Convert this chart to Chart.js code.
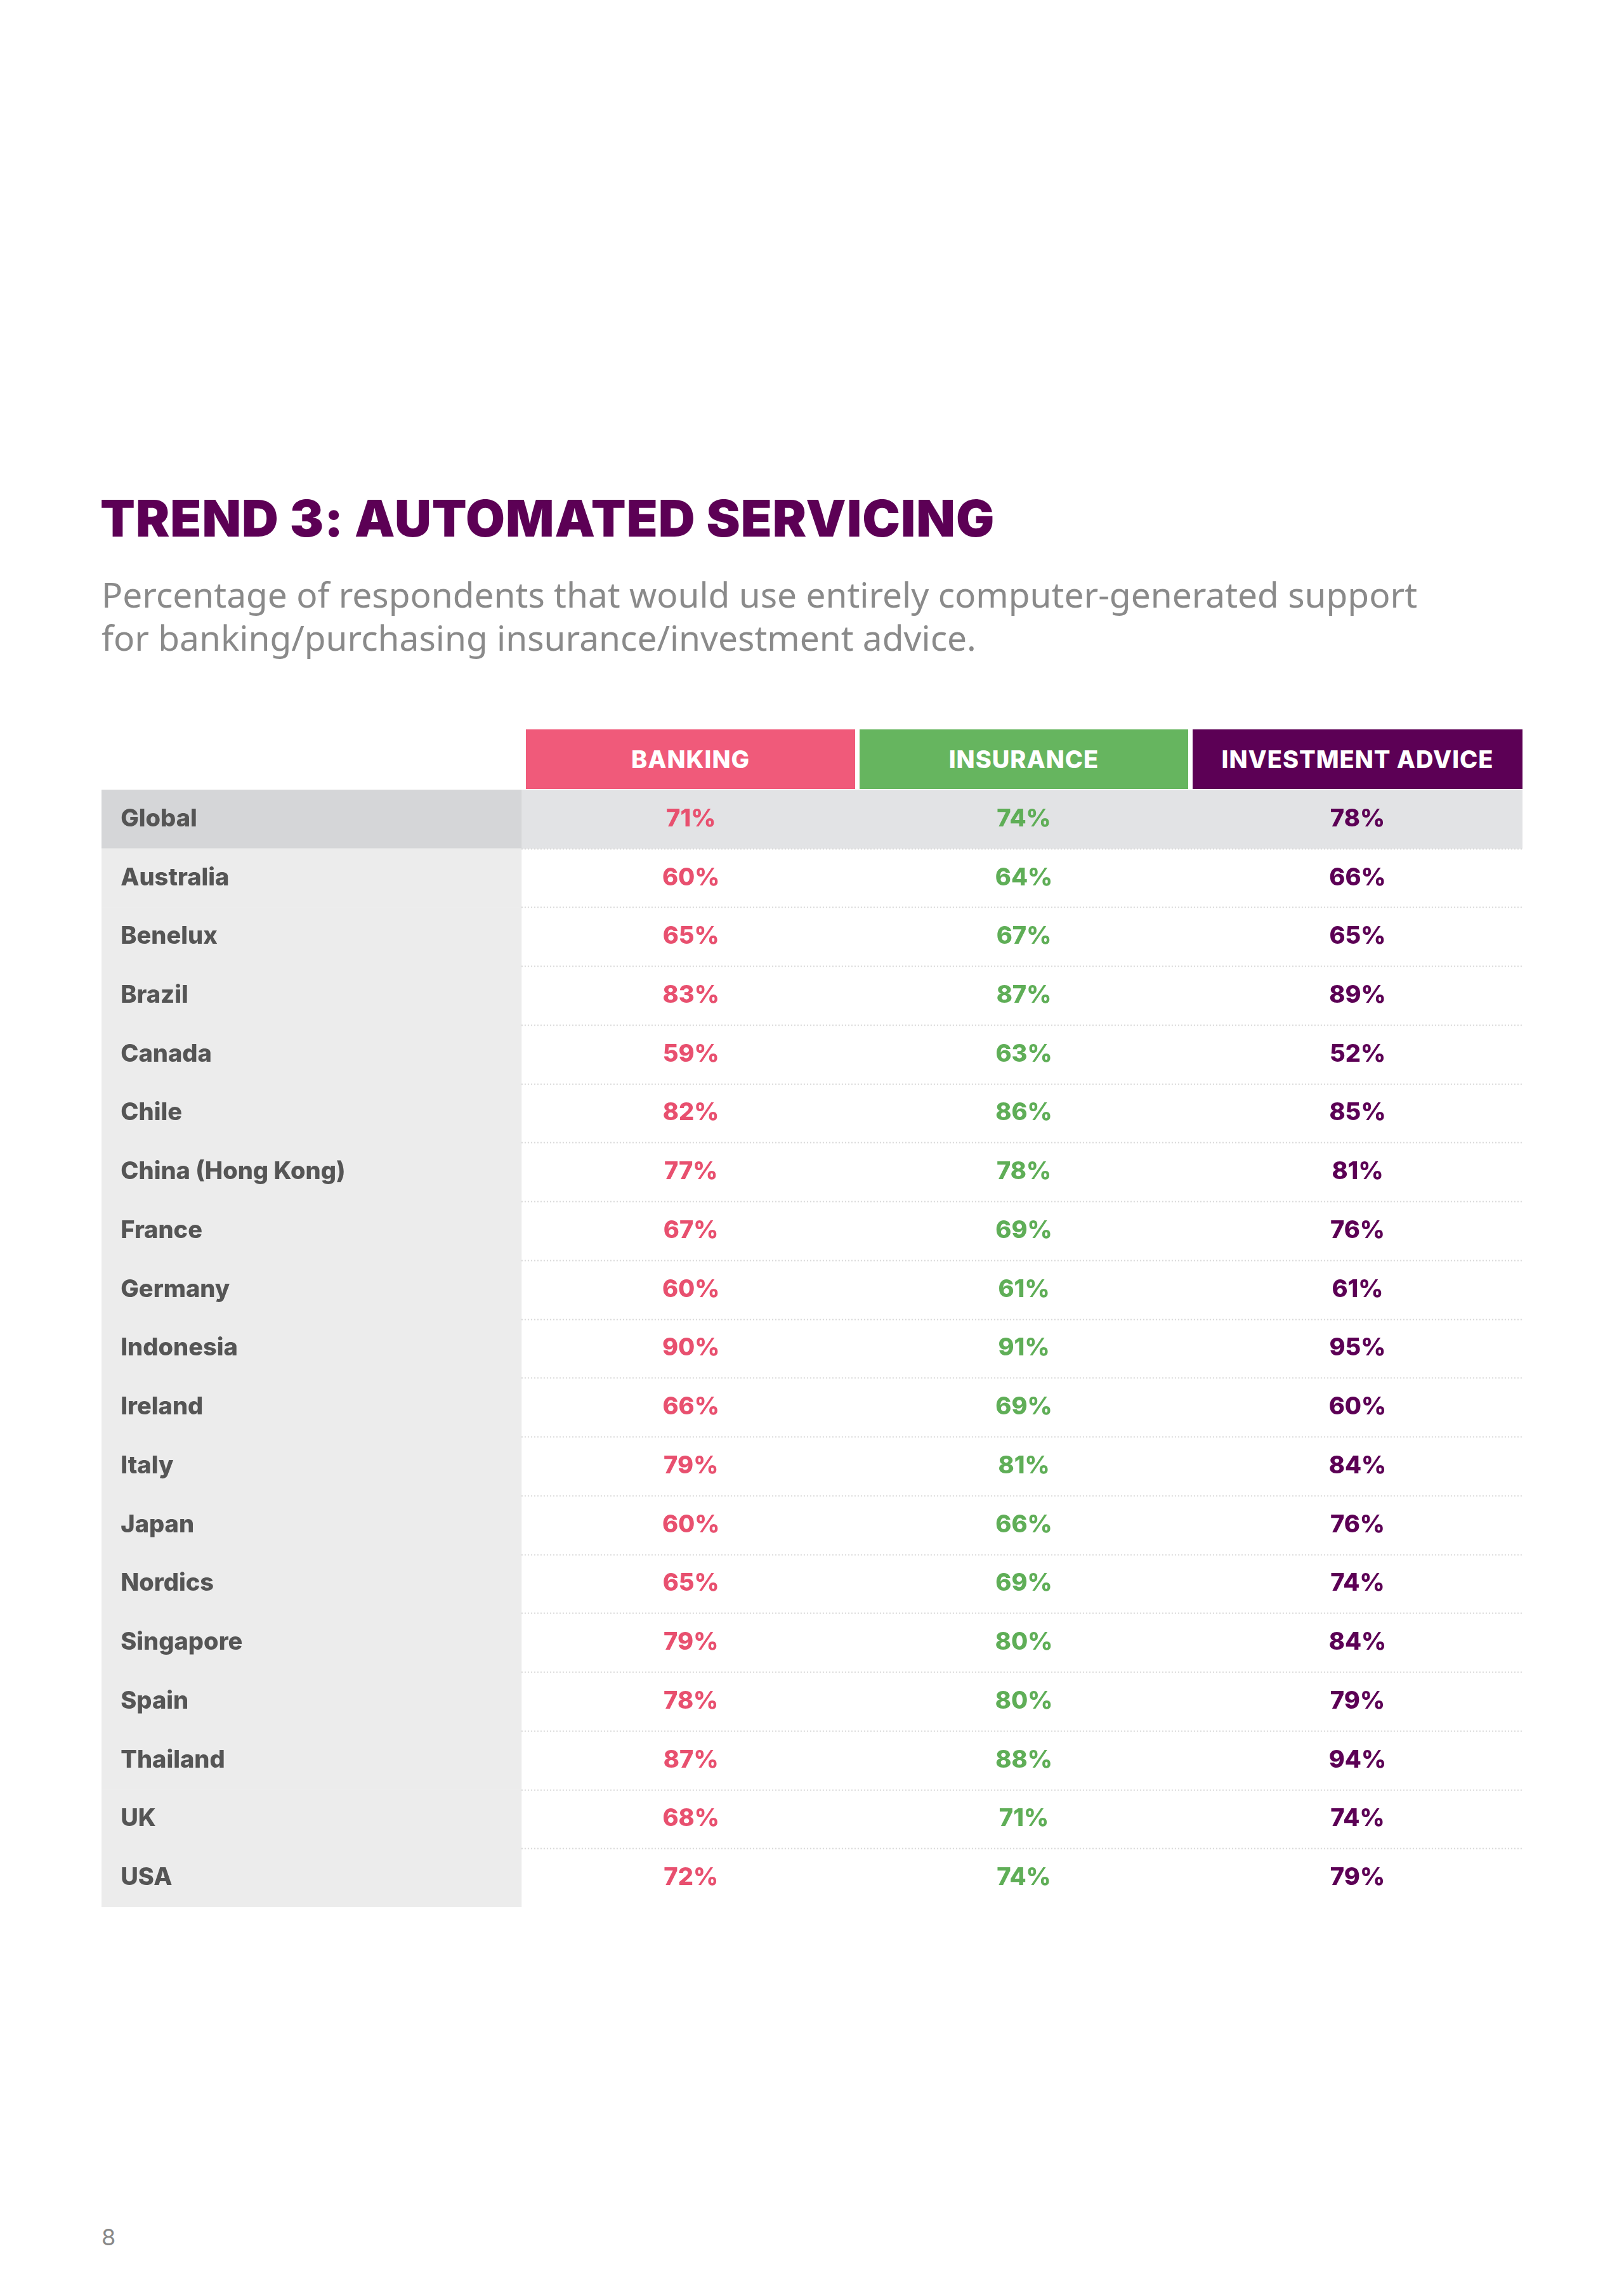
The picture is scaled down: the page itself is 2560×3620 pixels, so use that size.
<!DOCTYPE html>
<html>
<head>
<meta charset="utf-8">
<script src="https://cdn.jsdelivr.net/npm/chart.js@4"></script>
<style>
  body { margin: 0; background: #fff; width: 2560px; height: 3620px; position: relative; font-family: Inter, "Open Sans", sans-serif; }
  h1 { position: absolute; left: 158px; top: 768px; margin: 0; font-size: 80px; font-weight: 900; color: #5c0055; letter-spacing: 1px; }
  .sub { position: absolute; left: 160px; top: 903px; width: 2150px; font-size: 55px; line-height: 68px; color: #8a8a8a; font-family: "Noto Sans", sans-serif; }
  .hd { position: absolute; top: 1150px; height: 94px; line-height: 94px; text-align: center; color: #fff; font-size: 38px; font-weight: 800; letter-spacing: 1px; }
  #wrap { position: absolute; left: 160px; top: 1245px; width: 2240px; height: 1762px; }
  .pg { position: absolute; left: 160px; top: 3505px; font-size: 36px; color: #888; }
</style>
</head>
<body>
<h1>TREND 3: AUTOMATED SERVICING</h1>
<div class="sub">Percentage of respondents that would use entirely computer-generated support for banking/purchasing insurance/investment advice.</div>
<div class="hd" style="left:829px;width:519px;background:#f05a7a">BANKING</div>
<div class="hd" style="left:1355px;width:518px;background:#66b55f">INSURANCE</div>
<div class="hd" style="left:1880px;width:520px;background:#5c0055">INVESTMENT ADVICE</div>
<div id="wrap"><canvas id="table"></canvas></div>
<div class="pg">8</div>
<script>
// ── DATA ──
const countries = ['Global', 'Australia', 'Benelux', 'Brazil', 'Canada', 'Chile', 'China (Hong Kong)',
  'France', 'Germany', 'Indonesia', 'Ireland', 'Italy', 'Japan', 'Nordics', 'Singapore', 'Spain',
  'Thailand', 'UK', 'USA'];
const banking    = [71, 60, 65, 83, 59, 82, 77, 67, 60, 90, 66, 79, 60, 65, 79, 78, 87, 68, 72];
const insurance  = [74, 64, 67, 87, 63, 86, 78, 69, 61, 91, 69, 81, 66, 69, 80, 80, 88, 71, 74];
const investment = [78, 66, 65, 89, 52, 85, 81, 76, 61, 95, 60, 84, 76, 74, 84, 79, 94, 74, 79];

// column layout in x-scale units (0..1 across the table)
const LABEL_END = 0.2955;
const colCenters = [0.4148, 0.6491, 0.8839];
const colColors = ['#e8506f', '#5fae57', '#5c0055'];
const series = [banking, insurance, investment];

const tablePlugin = {
    id: 'tableText',
    afterDatasetsDraw(chart) {
        const { ctx, scales: { x, y } } = chart;
        const half = (y.getPixelForValue(1) - y.getPixelForValue(0)) / 2;
        ctx.save();
        // dotted separators in value columns
        ctx.strokeStyle = '#d8d8d8';
        ctx.lineWidth = 2;
        ctx.setLineDash([2, 3]);
        for (let i = 1; i < countries.length; i++) {
            const py = Math.round(y.getPixelForValue(i) - half) + 0.5;
            ctx.beginPath();
            ctx.moveTo(x.getPixelForValue(LABEL_END), py);
            ctx.lineTo(x.getPixelForValue(1), py);
            ctx.stroke();
        }
        ctx.setLineDash([]);
        ctx.textBaseline = 'middle';
        ctx.font = '800 38px Inter, "Open Sans", sans-serif';
        countries.forEach((c, i) => {
            const py = y.getPixelForValue(i);
            ctx.fillStyle = '#555';
            ctx.textAlign = 'left';
            ctx.fillText(c, x.getPixelForValue(0.0135), py);
            ctx.textAlign = 'center';
            series.forEach((s, k) => {
                ctx.fillStyle = colColors[k];
                ctx.fillText(s[i] + '%', x.getPixelForValue(colCenters[k]), py);
            });
        });
        ctx.restore();
    }
};

new Chart(document.getElementById('table').getContext('2d'), {
    type: 'bar',
    data: {
        labels: countries,
        datasets: [
            {   // label column background
                data: countries.map(() => [0, LABEL_END]),
                backgroundColor: countries.map((c, i) => i === 0 ? '#d5d6d8' : '#ececec'),
                grouped: false, barPercentage: 1, categoryPercentage: 1, borderWidth: 0
            },
            {   // Global row highlight
                data: countries.map((c, i) => i === 0 ? [LABEL_END, 1] : null),
                backgroundColor: '#e2e3e5',
                grouped: false, barPercentage: 1, categoryPercentage: 1, borderWidth: 0
            }
        ]
    },
    options: {
        indexAxis: 'y',
        responsive: true,
        maintainAspectRatio: false,
        animation: false,
        layout: { padding: 0 },
        scales: {
            x: { type: 'linear', min: 0, max: 1, display: false },
            y: { display: false, offset: true }
        },
        plugins: { legend: { display: false }, tooltip: { enabled: false } }
    },
    plugins: [tablePlugin]
});
</script>
</body>
</html>
